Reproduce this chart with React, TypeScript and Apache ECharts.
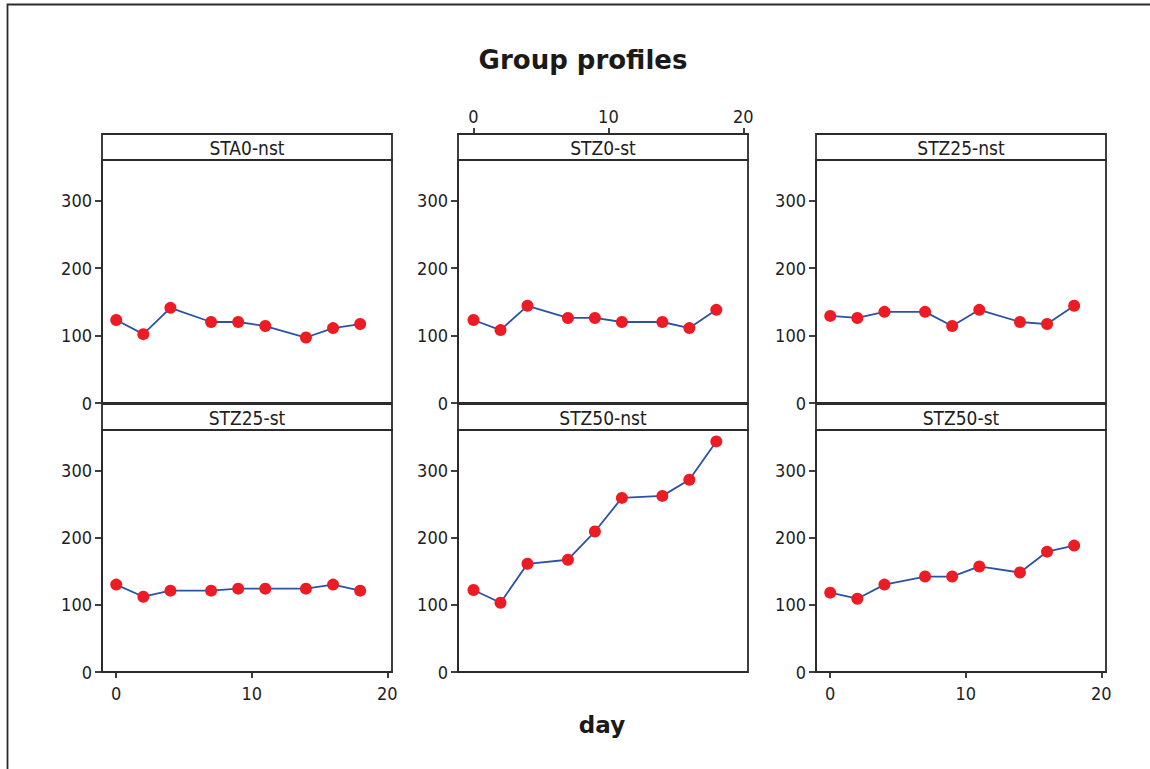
import React, { useEffect, useRef } from "react";
import * as echarts from "echarts";

// Sampling days shared by every group
const days = [0, 2, 4, 7, 9, 11, 14, 16, 18];

// Panel titles, in reading order (row by row)
const groups = ["STA0-nst", "STZ0-st", "STZ25-nst", "STZ25-st", "STZ50-nst", "STZ50-st"];

// Mean profile of each group
const sta0Nst = [123, 102, 141, 120, 120, 114, 97, 111, 117];
const stz0St = [123, 108, 144, 126, 126, 120, 120, 111, 138];
const stz25Nst = [129, 126, 135, 135, 114, 138, 120, 117, 144];
const stz25St = [130, 112, 121, 121, 124, 124, 124, 130, 121];
const stz50Nst = [122, 103, 161, 167, 209, 259, 262, 286, 343];
const stz50St = [118, 109, 130, 142, 142, 157, 148, 179, 188];
const profiles = [sta0Nst, stz0St, stz25Nst, stz25St, stz50Nst, stz50St];

// Tick values
const yTicks = [0, 100, 200, 300];
const xTicks = [0, 10, 20];

const FONT = "'DejaVu Sans Condensed', 'DejaVu Sans', Verdana, sans-serif";
const BOLD_FONT = "'DejaVu Sans', Verdana, sans-serif";
const INK = "#1e1e1e";
const FRAME = "#2b2b2b";

// Panel layout in pixels
const colLeft = [102, 458, 816];
const panelW = 290;
const rowTop = [160, 430];
const rowH = [243, 242];
const stripH = 26;

export default function App() {
  const ref = useRef<HTMLDivElement>(null);

  useEffect(() => {
    if (!ref.current) return;
    const chart = echarts.init(ref.current, undefined, { renderer: "svg" });

    const grids: any[] = [];
    const xAxes: any[] = [];
    const yAxes: any[] = [];
    const series: any[] = [];
    const graphics: any[] = [];

    groups.forEach((name, i) => {
      const row = Math.floor(i / 3);
      const col = i % 3;
      const left = colLeft[col];
      const top = rowTop[row];
      grids.push({
        left,
        top,
        width: panelW,
        height: rowH[row],
        show: true,
        borderColor: FRAME,
        borderWidth: 1.8,
        backgroundColor: "transparent",
        containLabel: false,
      });

      const bottomTicks = row === 1 && col !== 1;
      const topTicks = row === 0 && col === 1;
      const shown = topTicks || bottomTicks;
      xAxes.push({
        type: "value",
        gridIndex: i,
        min: col === 1 ? -1.15 : -1.05,
        max: 20.35,
        position: topTicks ? "top" : "bottom",
        offset: topTicks ? stripH : 0,
        axisLine: { show: shown, onZero: false, lineStyle: { color: FRAME, width: 1.8 } },
        axisTick: {
          show: shown,
          customValues: xTicks,
          length: 6,
          lineStyle: { color: FRAME, width: 1.8 },
        },
        axisLabel: {
          show: shown,
          customValues: xTicks,
          margin: topTicks ? 9 : 12,
          color: INK,
          fontFamily: FONT,
          fontSize: 18,
        },
        splitLine: { show: false },
      });

      yAxes.push({
        type: "value",
        gridIndex: i,
        min: 0,
        max: 360,
        position: "left",
        axisLine: { show: true, onZero: false, lineStyle: { color: FRAME, width: 1.8 } },
        axisTick: {
          show: true,
          customValues: yTicks,
          length: 7,
          lineStyle: { color: FRAME, width: 1.8 },
        },
        axisLabel: {
          customValues: yTicks,
          margin: 10,
          color: INK,
          fontFamily: FONT,
          fontSize: 18,
        },
        splitLine: { show: false },
      });

      series.push({
        type: "line",
        name,
        xAxisIndex: i,
        yAxisIndex: i,
        data: days.map((d, k) => [d, profiles[i][k]]),
        symbol: "circle",
        symbolSize: 12,
        itemStyle: { color: "#ed1c24", borderWidth: 0 },
        lineStyle: { color: "#2c52a3", width: 1.8 },
        z: 3,
      });

      // Panel strip with the group name
      graphics.push({
        type: "rect",
        shape: { x: left, y: top - stripH, width: panelW, height: stripH },
        style: { fill: "#ffffff", stroke: FRAME, lineWidth: 1.8 },
        z: 10,
      });
      graphics.push({
        type: "text",
        x: left + panelW / 2,
        y: top - stripH / 2 + 1,
        style: {
          text: name,
          fill: INK,
          font: `19px ${FONT}`,
          textAlign: "center",
          textVerticalAlign: "middle",
        },
        z: 11,
      });
    });

    // Outer frame
    graphics.push({
      type: "polyline",
      shape: { points: [[7.5, 769], [7.5, 4.5], [1150, 4.5]] },
      style: { stroke: FRAME, lineWidth: 1.8, fill: "none" },
      z: 10,
    });

    // Title and x-axis caption
    graphics.push({
      type: "text",
      x: 583,
      y: 60,
      style: {
        text: "Group profiles",
        fill: "#1a1a1a",
        font: `bold 26px ${BOLD_FONT}`,
        textAlign: "center",
        textVerticalAlign: "middle",
      },
      z: 11,
    });
    graphics.push({
      type: "text",
      x: 602,
      y: 725,
      style: {
        text: "day",
        fill: "#1a1a1a",
        font: `bold 23px ${BOLD_FONT}`,
        textAlign: "center",
        textVerticalAlign: "middle",
      },
      z: 11,
    });

    chart.setOption({
      animation: false,
      backgroundColor: "#ffffff",
      grid: grids,
      xAxis: xAxes,
      yAxis: yAxes,
      series,
      graphic: graphics,
    });

    return () => chart.dispose();
  }, []);

  return (
    <div
      ref={ref}
      style={{ position: "fixed", left: 0, top: 0, width: 1150, height: 769, background: "#fff" }}
    />
  );
}
